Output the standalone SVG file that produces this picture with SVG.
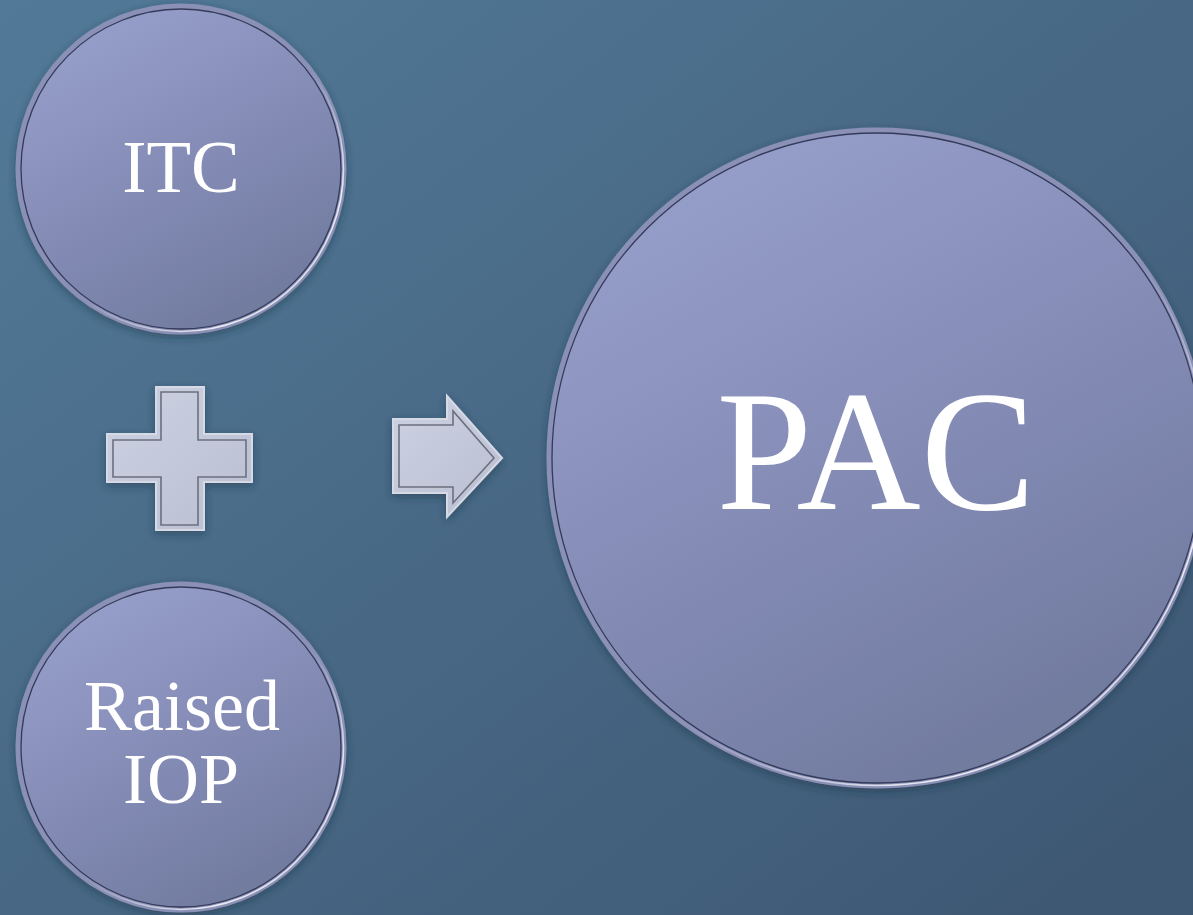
<svg xmlns="http://www.w3.org/2000/svg" width="1193" height="915" viewBox="0 0 1193 915">
  <defs>
    <linearGradient id="bg" x1="0" y1="0" x2="1" y2="1">
      <stop offset="0" stop-color="#527a98"/>
      <stop offset="1" stop-color="#3d5672"/>
    </linearGradient>
    <linearGradient id="disc" x1="0.25" y1="0.05" x2="0.75" y2="0.95">
      <stop offset="0" stop-color="#959dc9"/>
      <stop offset="0.5" stop-color="#848cb6"/>
      <stop offset="1" stop-color="#707a9d"/>
    </linearGradient>
    <linearGradient id="rimLight" x1="0" y1="0" x2="1" y2="1">
      <stop offset="0" stop-color="#ffffff" stop-opacity="0"/>
      <stop offset="0.55" stop-color="#ffffff" stop-opacity="0"/>
      <stop offset="0.8" stop-color="#ffffff" stop-opacity="0.85"/>
      <stop offset="1" stop-color="#ffffff" stop-opacity="0.3"/>
    </linearGradient>
    <linearGradient id="shapeFill" x1="0" y1="0" x2="1" y2="1">
      <stop offset="0" stop-color="#cdd2e3"/>
      <stop offset="1" stop-color="#b9bed0"/>
    </linearGradient>
    <filter id="shadow" x="-20%" y="-20%" width="140%" height="140%">
      <feDropShadow dx="0" dy="3" stdDeviation="4" flood-color="#1c2a3c" flood-opacity="0.45"/>
    </filter>
  </defs>
  <style>
    .disc { fill: url(#disc); stroke: #8a90b6; stroke-width: 5; filter: url(#shadow); }
    .groove { fill: none; stroke: #343a5a; stroke-width: 1.3; }
    .gloss { fill: none; stroke: url(#rimLight); stroke-width: 1.6; }
    .label { font-family: "Liberation Serif", "DejaVu Serif", serif; fill: #ffffff; text-anchor: middle; }
    .sym { fill: url(#shapeFill); stroke: #d6d9e6; stroke-width: 2; filter: url(#shadow); }
    .symLine { fill: none; stroke: #6c707e; stroke-width: 1.6; }
  </style>

  <rect width="1193" height="915" fill="url(#bg)"/>

  <!-- left upper disc -->
  <g id="itc">
    <circle class="disc" cx="181" cy="169" r="163"/>
    <circle class="groove" cx="181" cy="169" r="160"/>
    <circle class="gloss" cx="181" cy="169" r="162.5"/>
    <text class="label" x="181" y="192" font-size="73">ITC</text>
  </g>

  <!-- left lower disc -->
  <g id="raised-iop">
    <circle class="disc" cx="181" cy="747" r="163"/>
    <circle class="groove" cx="181" cy="747" r="160"/>
    <circle class="gloss" cx="181" cy="747" r="162.5"/>
    <text class="label" x="182" y="730" font-size="72">Raised</text>
    <text class="label" x="181" y="803" font-size="72">IOP</text>
  </g>

  <!-- large result disc -->
  <g id="pac">
    <circle class="disc" cx="877" cy="458" r="328"/>
    <circle class="groove" cx="877" cy="458" r="325"/>
    <circle class="gloss" cx="877" cy="458" r="327.5"/>
    <text class="label" x="876" y="509" font-size="172">PAC</text>
  </g>

  <g id="connectors">
    <!-- plus sign -->
    <g id="plus">
      <path class="sym" d="M156,387 H204 V434 H252 V482 H204 V530 H156 V482 H107 V434 H156 Z"/>
      <path class="symLine" d="M161,392 H198 V440 H246 V477 H198 V525 H161 V477 H113 V440 H161 Z"/>
    </g>
    <!-- block arrow -->
    <g id="arrow">
      <path class="sym" d="M393,419 H447 V396 L502,458 L447,517 V493 H393 Z"/>
      <path class="symLine" d="M399,425 H453 V411 L494,458 L453,503 V487 H399 Z"/>
    </g>
  </g>
</svg>
